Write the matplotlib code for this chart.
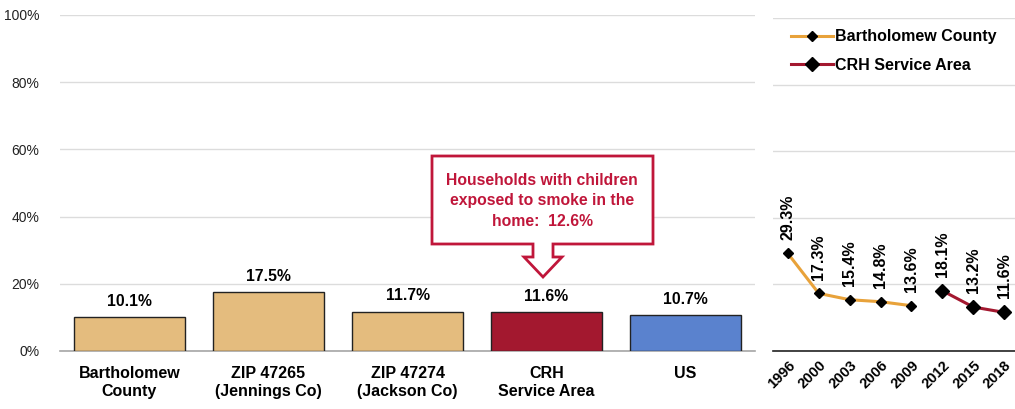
import matplotlib.pyplot as plt
import numpy as np
from matplotlib.patches import Polygon
from matplotlib.ticker import PercentFormatter

plt.rcParams['font.family'] = ['Liberation Sans Narrow', 'Liberation Sans', 'DejaVu Sans']

# bar chart data
categories = ['Bartholomew\nCounty', 'ZIP 47265\n(Jennings Co)', 'ZIP 47274\n(Jackson Co)',
              'CRH\nService Area', 'US']
values = [10.1, 17.5, 11.7, 11.6, 10.7]
bar_colors = ['#E4BC7E', '#E4BC7E', '#E4BC7E', '#A3182F', '#5A82CE']

# trend data
years = ['1996', '2000', '2003', '2006', '2009', '2012', '2015', '2018']
bartholomew = [29.3, 17.3, 15.4, 14.8, 13.6, np.nan, np.nan, np.nan]
crh = [np.nan, np.nan, np.nan, np.nan, np.nan, 18.1, 13.2, 11.6]

callout = 'Households with children\nexposed to smoke in the\nhome:  12.6%'

fig = plt.figure(figsize=(10.15, 4.09), dpi=100)
W, H = 1015, 409

# ---- left: bars ----
ax = fig.add_axes([60 / W, (409 - 351) / H, 695 / W, 336 / H])
x = np.arange(len(categories))
ax.bar(x, values, width=0.8, color=bar_colors, edgecolor='#222222', linewidth=1, zorder=3)
for i, v in enumerate(values):
    ax.annotate(f'{v}%', (i, v), xytext=(0, 6), textcoords='offset points',
                ha='center', va='bottom', fontsize=11.3, fontweight='bold')
ax.set_xlim(-0.5, len(categories) - 0.5)
ax.set_ylim(0, 100)
ax.set_yticks(range(0, 101, 20))
ax.yaxis.set_major_formatter(PercentFormatter(decimals=0))
ax.set_xticks(x)
ax.set_xticklabels(categories, fontsize=11.5, fontweight='bold')
ax.tick_params(axis='x', length=0, pad=11)
ax.tick_params(axis='y', length=0, pad=15, labelsize=10, labelcolor='#222222')
ax.grid(axis='y', color='#DCDCDC', linewidth=1, zorder=0)
for s in ['top', 'right', 'left']:
    ax.spines[s].set_visible(False)
ax.spines['bottom'].set_color('#A6A6A6')
ax.spines['bottom'].set_linewidth(1.2)

# callout box with arrow (pixel coords of figure)
box = [(432, 156), (653, 156), (653, 244), (553, 244), (553, 257), (562, 257),
       (543, 277), (524, 257), (533, 257), (533, 244), (432, 244)]
box = [(px / W, 1 - py / H) for px, py in box]
fig.patches.append(Polygon(box, closed=True, transform=fig.transFigure, facecolor='white',
                           edgecolor='#C0163A', linewidth=2, zorder=5))
fig.text(542 / W, 1 - 201 / H, callout, ha='center', va='center', color='#C0163A',
         fontsize=11.3, fontweight='bold', linespacing=1.45, zorder=6)

# ---- right: trend ----
ax2 = fig.add_axes([773 / W, (409 - 351) / H, 242 / W, 333 / H])
xi = np.arange(len(years))
ax2.plot(xi, bartholomew, color='#E8A23A', linewidth=2.2, marker='D', markersize=5,
         markerfacecolor='black', markeredgecolor='black', label='Bartholomew County')
ax2.plot(xi, crh, color='#A3182F', linewidth=2.2, marker='D', markersize=7,
         markerfacecolor='black', markeredgecolor='black', label='CRH Service Area')
for series in (bartholomew, crh):
    for i, v in enumerate(series):
        if not np.isnan(v):
            ax2.annotate(f'{v}%', (i, v), xytext=(0, 10), textcoords='offset points',
                         ha='center', va='bottom', rotation=90, fontsize=11.5,
                         fontweight='bold')
ax2.set_xlim(-0.48, 7.35)
ax2.set_ylim(0, 100)
ax2.set_yticks(range(0, 101, 20))
ax2.set_yticklabels([])
ax2.set_xticks(xi)
ax2.set_xticklabels(years, rotation=45, ha='right', rotation_mode='anchor',
                    fontsize=10.5, fontweight='bold')
ax2.tick_params(axis='both', length=0)
ax2.tick_params(axis='x', pad=5)
ax2.grid(axis='y', color='#DCDCDC', linewidth=1, zorder=0)
for s in ['top', 'right', 'left']:
    ax2.spines[s].set_visible(False)
ax2.spines['bottom'].set_color('#222222')
ax2.spines['bottom'].set_linewidth(1.2)
ax2.legend(loc='upper left', bbox_to_anchor=(0.05, 0.985), frameon=False,
           prop={'weight': 'bold', 'size': 11.5}, handlelength=2.6, handletextpad=0.15,
           labelspacing=0.85, borderaxespad=0)

fig.savefig('out.png', dpi=100)
